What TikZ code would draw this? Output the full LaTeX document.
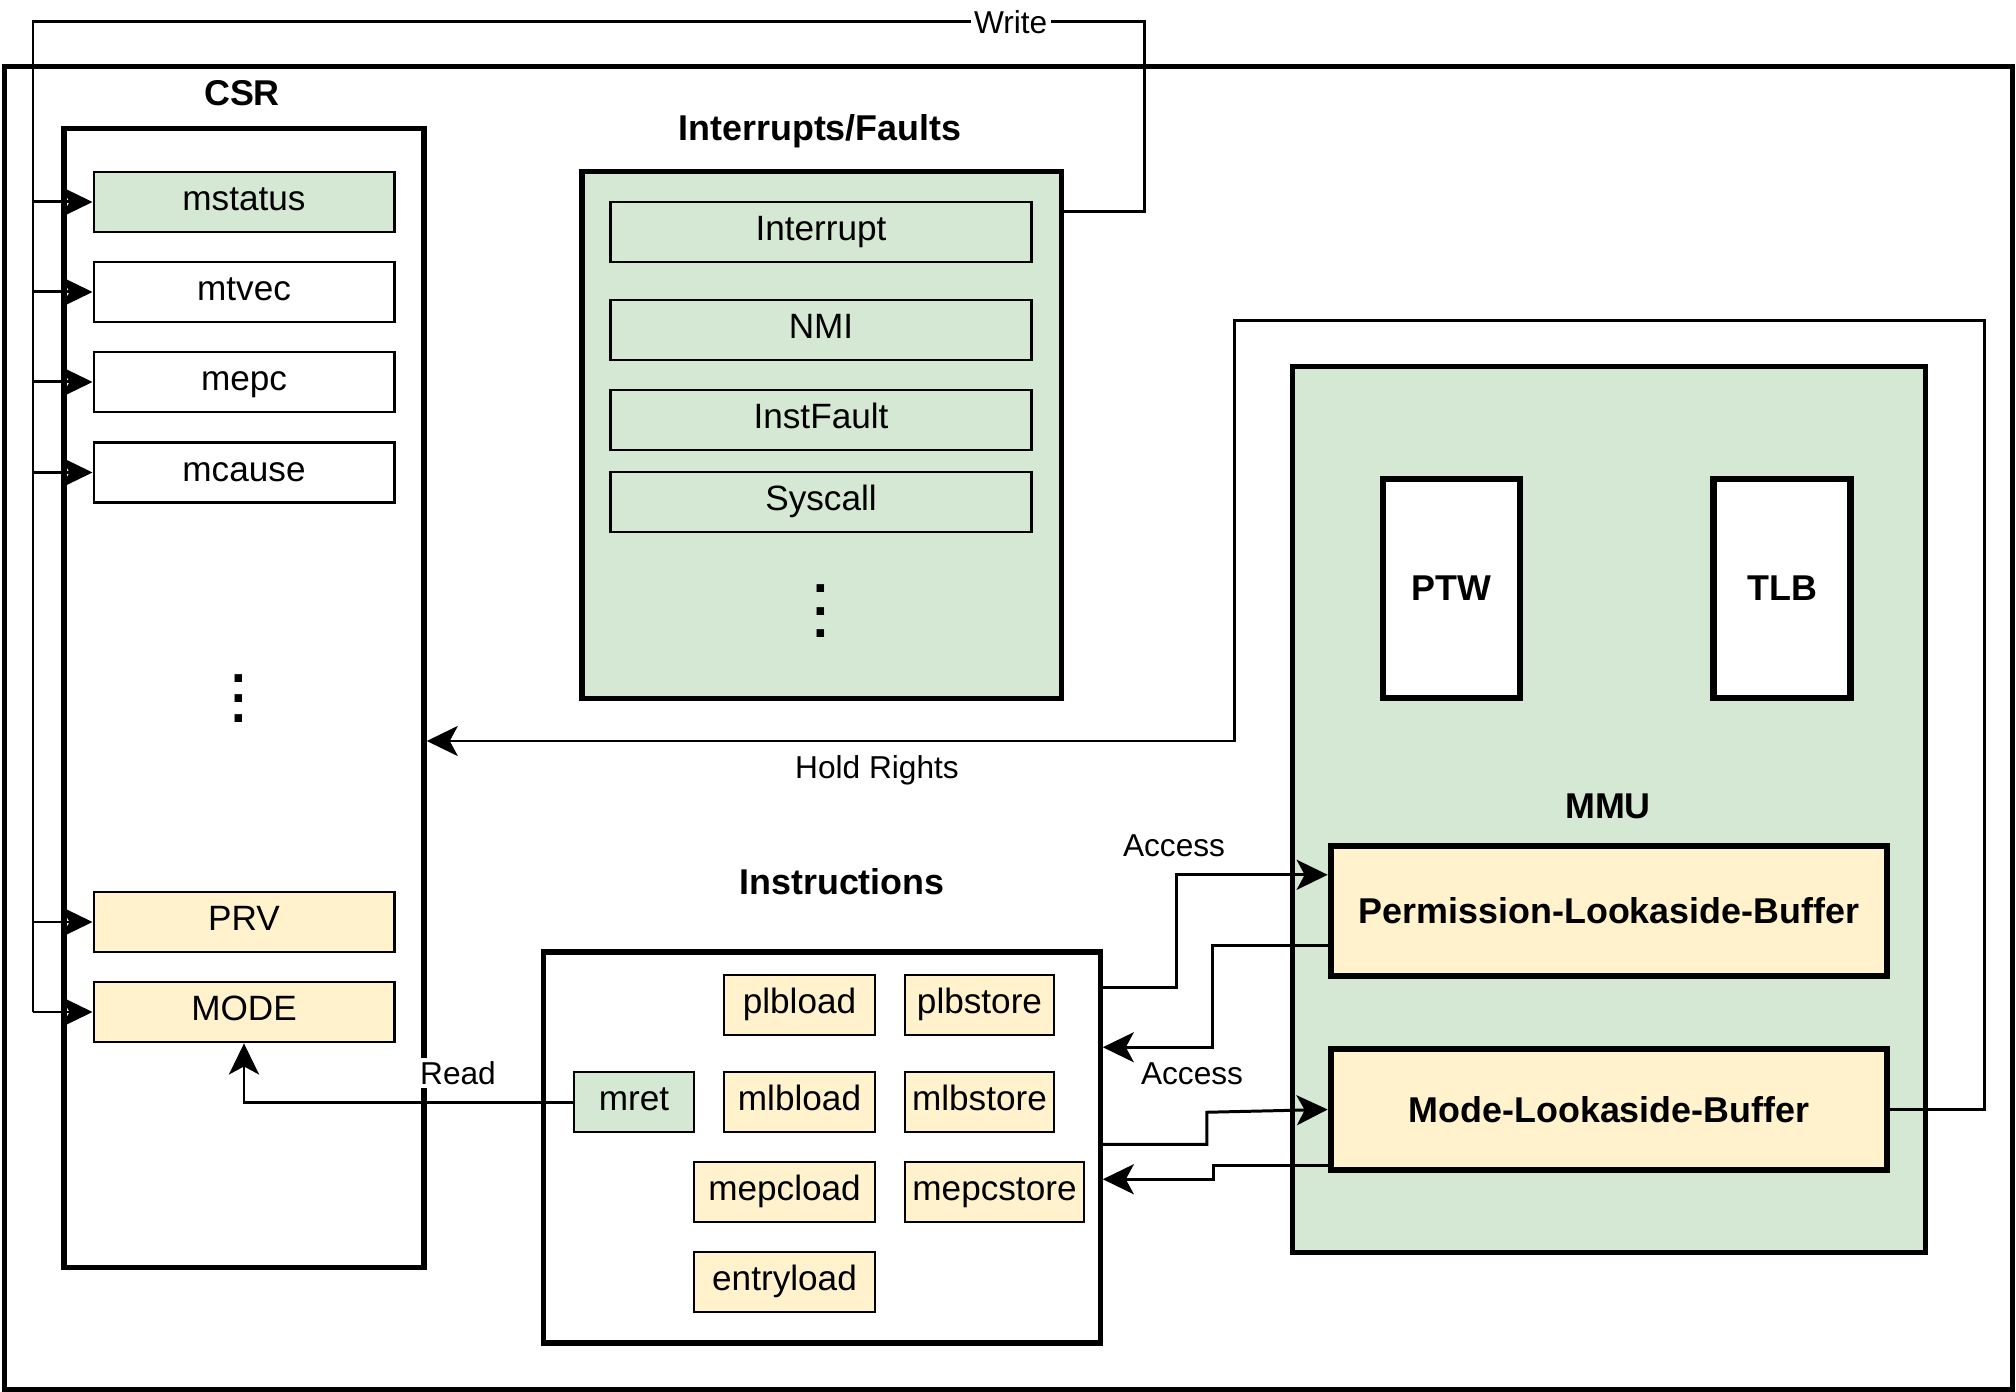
\documentclass[tikz,border=0pt]{standalone}
\usepackage{fontspec}
\setmainfont{Liberation Sans}
\usetikzlibrary{arrows.meta, positioning, calc}
\definecolor{BoxGreen}{RGB}{213, 232, 212}
\definecolor{BoxYellow}{RGB}{255, 242, 204}

\begin{document}
\begin{tikzpicture}[x=0.01cm, y=-0.01cm,
    group/.style={draw, line width=1.5pt, inner sep=0pt},
    unitbox/.style={draw, line width=1.8pt, inner sep=0pt, font=\bfseries\fontsize{10.2}{12}\selectfont},
    reg/.style={draw, line width=0.8pt, minimum height=0.6cm, inner sep=0pt, text height=7.2pt, text depth=2.1pt, font=\fontsize{10}{12}\selectfont},
    grouptitle/.style={font=\bfseries\fontsize{10.2}{12}\selectfont},
    lbl/.style={font=\fontsize{9}{11}\selectfont, fill=white, inner sep=1pt},
    conn/.style={line width=0.85pt},
    arr/.style={conn, -{Stealth[length=0.31cm, width=0.3cm, inset=0.08cm]}},
    dotnode/.style={font=\bfseries\fontsize{15}{15}\selectfont, inner sep=0pt}]

    \useasboundingbox (0,0) rectangle (2016,1392);

    % Outer frame
    \node[group, minimum width=20.07cm, minimum height=13.22cm] (outer) at (1008.5,728) {};

    % CSR registers
    \node[group, minimum width=3.6cm, minimum height=11.38cm] (CSR) at (244,698) {};
    \node[grouptitle] (csrtitle) at (242,93) {CSR};
    \foreach \n/\y/\c in {mstatus/202/BoxGreen, mtvec/292/white, mepc/382/white, mcause/472.5/white, PRV/922/BoxYellow, MODE/1012/BoxYellow} {
        \node[reg, fill=\c, minimum width=3cm] (\n) at (244,\y) {\n};
    }
    \foreach \d in {0,1,2} {
        \node[dotnode] (csrdot\d) at (239,679+\d*20) {.};
    }

    % Interrupts/Faults
    \node[group, fill=BoxGreen, minimum width=4.79cm, minimum height=5.26cm] (intf) at (821.5,435) {};
    \node[grouptitle] (intftitle) at (820,131) {Interrupts/Faults};
    \foreach \n/\y in {Interrupt/232, NMI/330, InstFault/420, Syscall/502} {
        \node[reg, fill=BoxGreen, minimum width=4.2cm] (\n) at (821,\y) {\n};
    }
    \foreach \d in {0,1,2} {
        \node[dotnode] (intfdot\d) at (821,589+\d*22.5) {.};
    }

    % MMU
    \node[group, fill=BoxGreen, minimum width=6.32cm, minimum height=8.85cm] (mmu) at (1609,809.5) {};
    \node[unitbox, fill=white, minimum width=1.37cm, minimum height=2.19cm] (PTW) at (1451.5,588.5) {PTW};
    \node[unitbox, fill=white, minimum width=1.37cm, minimum height=2.19cm] (TLB) at (1782,588.5) {TLB};
    \node[grouptitle] (mmutitle) at (1608,806) {MMU};
    \node[unitbox, fill=BoxYellow, minimum width=5.56cm, minimum height=1.3cm] (PLB) at (1609,911) {Permission-Lookaside-Buffer};
    \node[unitbox, fill=BoxYellow, minimum width=5.56cm, minimum height=1.21cm] (MLB) at (1609,1109.5) {Mode-Lookaside-Buffer};

    % Instructions
    \node[group, minimum width=5.56cm, minimum height=3.91cm] (instr) at (822,1147.5) {};
    \node[grouptitle] (instrtitle) at (842,882) {Instructions};
    \foreach \n/\x/\y/\w/\c in {plbload/799.5/1005/1.51/BoxYellow, plbstore/979.5/1005/1.49/BoxYellow, mret/634/1102/1.2/BoxGreen, mlbload/799.5/1102/1.51/BoxYellow, mlbstore/979.5/1102/1.49/BoxYellow, mepcload/784.5/1192/1.81/BoxYellow, mepcstore/994.5/1192/1.79/BoxYellow, entryload/784.5/1282/1.81/BoxYellow} {
        \node[reg, fill=\c, minimum width=\w cm] (\n) at (\x,\y) {\n};
    }

    % Write bus
    \coordinate (wtop) at (1144,22);
    \coordinate (bus) at (33,22);
    \draw[conn] ($(intf.north east)+(0,42)$) -| (wtop) -- node[lbl, pos=0.12] (wlbl) {Write} (bus) -- (bus |- MODE.west);
    \foreach \n in {mstatus, mtvec, mepc, mcause, PRV, MODE} {
        \draw[arr] (bus |- \n.west) -- (\n.west);
    }

    % Hold Rights
    \coordinate (hold) at (1234,741);
    \draw[arr] (MLB.east) -| (1984,321) -| (hold) -- (hold -| CSR.east);
    \node[lbl, fill=none] (holdlbl) at (877,770) {Hold Rights};

    % Read
    \draw[arr] (mret.west) -| (MODE.south);
    \node[lbl] (readlbl) at (458,1073) {Read};

    % Access
    \draw[arr] ($(instr.north east)+(0,38)$) -- ++(74,0) |- ($(PLB.north west)+(0,32)$);
    \node[lbl, fill=none] (acc1) at (1174,846) {Access};
    \draw[arr] ($(PLB.south west)+(0,-34)$) -- ++(-115,0) |- ($(instr.north east)+(0,98)$);
    \node[lbl, fill=none] (acc2) at (1192,1074) {Access};
    \draw[arr] ($(instr.north east)+(0,195)$) -- ++(104,0) -- ++(0,-32) -- (MLB.west);
    \draw[arr] ($(MLB.south west)+(0,-8)$) -- ++(-114,0) |- ($(instr.north east)+(0,230)$);
\end{tikzpicture}
\end{document}
